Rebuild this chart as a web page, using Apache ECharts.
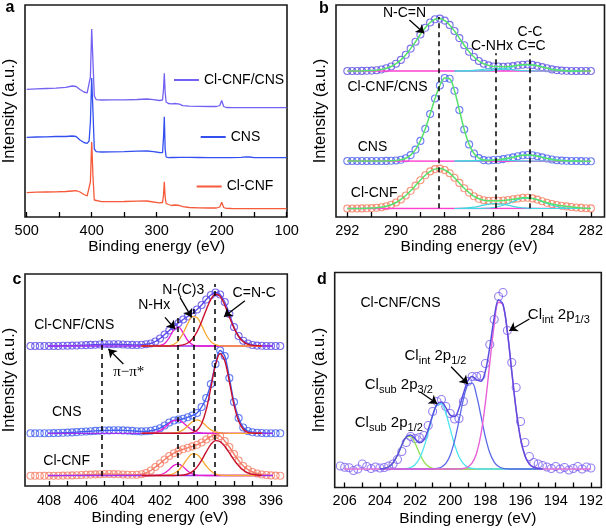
<!DOCTYPE html>
<html>
<head>
<meta charset="utf-8">
<script src="https://cdn.jsdelivr.net/npm/echarts@6/dist/echarts.min.js"></script>
<style>
html,body{margin:0;padding:0;background:#fff;}
#chart{width:606px;height:528px;}
</style>
</head>
<body>
<div id="chart"></div>
<script>
// ---------- Panel a: XPS survey ----------
const xA = [500, 485, 470, 455, 440, 430, 424, 418, 412, 407, 404, 402, 400, 398, 396, 393, 385, 370, 350, 330, 315, 305, 296, 291, 289.5, 288.3, 287, 285.5, 282, 277, 272, 269, 265, 260, 250, 235, 220, 208, 203, 200, 197, 193, 185, 170, 163, 160, 157, 150, 130, 115, 100];
const aClCNFCNS = [127.7, 128.2, 128.5, 128.8, 129.7, 131.0, 130.5, 127.5, 125.0, 124.2, 124.5, 140, 188, 155, 121, 117.3, 117.0, 117.2, 117.2, 117.5, 118.0, 117.3, 116.5, 117.0, 128, 143.7, 125, 115, 113.5, 113.2, 113.5, 114.5, 112.8, 111.3, 110.8, 110.6, 110.5, 110.5, 111.5, 116.5, 110.5, 109.5, 109.3, 109.3, 109.4, 109.5, 109.3, 109.3, 109.3, 109.3, 109.3];
const aCNS = [79.7, 80.0, 80.2, 80.5, 80.5, 81.0, 80.5, 77.0, 74.5, 73.7, 76, 95, 139, 105, 68, 65.3, 65.0, 65.2, 65.3, 65.8, 66.0, 65.3, 64.5, 64.3, 80, 100.3, 68, 60, 59.3, 59.5, 59.5, 59.6, 59.6, 59.6, 59.6, 59.5, 59.4, 59.3, 59.3, 59.3, 59.3, 59.3, 59.4, 59.6, 60.2, 61.0, 60.0, 59.4, 59.3, 59.3, 59.3];
const aClCNF = [24.3, 24.8, 25.0, 25.2, 25.5, 26.0, 26.3, 25.0, 22.5, 21.2, 21.5, 35, 75, 40, 17, 15.5, 15.3, 15.3, 15.5, 15.8, 16.0, 15.0, 14.2, 14.5, 22, 35.3, 20, 13.5, 12.5, 11.5, 12.0, 13.0, 11.5, 10.3, 9.5, 9.2, 9.0, 9.0, 10.0, 14.7, 9.5, 8.7, 8.5, 8.4, 8.3, 8.3, 8.3, 8.3, 8.3, 8.3, 8.3];
const aTicks = [100, 500, 100]; // min, max, step

// ---------- Panel b: C 1s ----------
const xB = [292.0, 291.8, 291.6, 291.4, 291.2, 291.0, 290.8, 290.6, 290.4, 290.2, 290.0, 289.8, 289.6, 289.4, 289.2, 289.0, 288.8, 288.6, 288.4, 288.2, 288.0, 287.8, 287.6, 287.4, 287.2, 287.0, 286.8, 286.6, 286.4, 286.2, 286.0, 285.8, 285.6, 285.4, 285.2, 285.0, 284.8, 284.6, 284.4, 284.2, 284.0, 283.8, 283.6, 283.4, 283.2, 283.0, 282.8, 282.6, 282.4, 282.2, 282.0];
const bTop = [146.0, 146.0, 146.0, 146.1, 146.2, 146.4, 146.8, 147.5, 148.7, 150.5, 153.3, 157.1, 162.2, 168.4, 175.3, 182.5, 189.2, 194.5, 197.7, 198.4, 196.4, 192.1, 186.0, 178.9, 171.8, 165.3, 160.0, 156.0, 153.3, 151.6, 150.5, 150.5, 150.3, 150.5, 150.9, 151.7, 152.3, 152.5, 152.1, 151.2, 149.9, 148.7, 147.6, 146.9, 146.4, 146.2, 146.0, 146.0, 146.0, 146.0, 146.0];
const bMid = [56.0, 56.0, 56.0, 56.0, 56.0, 56.0, 56.0, 56.0, 56.1, 56.2, 56.5, 57.2, 58.7, 61.9, 67.4, 76.1, 88.2, 103.0, 118.5, 131.5, 139.0, 138.3, 126.2, 107.0, 87.5, 72.6, 63.5, 58.9, 56.9, 56.5, 57.0, 57.3, 57.9, 58.8, 59.6, 60.8, 61.7, 62.0, 61.7, 60.8, 59.6, 58.5, 57.5, 56.8, 56.4, 56.2, 56.0, 56.0, 55.9, 55.8, 55.7];
const bBot = [8.5, 8.5, 8.5, 8.6, 8.7, 8.9, 9.2, 9.8, 10.8, 12.3, 14.5, 17.6, 21.5, 26.2, 31.4, 36.8, 41.7, 45.6, 47.9, 48.4, 47.0, 43.8, 39.3, 34.1, 28.7, 24.4, 20.7, 18.2, 16.8, 16.3, 16.2, 16.3, 16.5, 17.0, 17.7, 18.5, 19.2, 19.3, 18.6, 17.4, 15.8, 14.2, 13.0, 12.0, 11.2, 10.6, 10.0, 9.5, 9.1, 8.8, 8.6];
const xBc = [287.6, 287.2, 286.8, 286.4, 286.0, 285.6, 285.2, 284.8, 284.4, 284.0, 283.6, 283.2, 282.8, 282.4];
const bTopNHx = [146, 146.2, 146.7, 147.7, 148.5, 148.2, 147.1, 146.3, 146.1, 146, 146, 146, 146, 146];
const bTopCC = [146, 146, 146, 146.1, 146.6, 148.0, 150.2, 152.2, 152.2, 150.2, 148.0, 146.6, 146.1, 146];
const bMidNHx = [56, 56.1, 56.3, 56.7, 57, 56.9, 56.4, 56.1, 56, 56, 56, 56, 56, 56];
const bMidCC = [56, 56, 56, 56.1, 56.6, 57.8, 59.9, 61.7, 61.7, 59.9, 57.8, 56.6, 56.1, 56];
const bBotNHx = [8.5, 8.8, 9.8, 11.8, 13.4, 12.8, 10.7, 9.2, 8.6, 8.5, 8.5, 8.5, 8.5, 8.5];
const bBotCC = [8.5, 8.5, 8.5, 8.7, 9.5, 11.7, 15.4, 18.5, 18.5, 15.4, 11.7, 9.5, 8.7, 8.5];
const xBEnds = [292, 282];
const bBaseTop = [146, 146];
const bBaseMid = [56, 55.7];
const bBaseBot = [8.5, 8.6];
const bDash = [[288.25, 8.7, 200], [285.9, 8.7, 163.7], [284.5, 8.7, 163.7]];
const bArrow = [[289.45, 197, 288.84, 183.7]];

// ---------- Panel c: N 1s ----------
const xC = [409, 408.75, 408.5, 408.25, 408, 407.75, 407.5, 407.25, 407, 406.75, 406.5, 406.25, 406, 405.75, 405.5, 405.25, 405, 404.75, 404.5, 404.25, 404, 403.75, 403.5, 403.25, 403, 402.75, 402.5, 402.25, 402, 401.75, 401.5, 401.25, 401, 400.75, 400.5, 400.25, 400, 399.75, 399.5, 399.25, 399, 398.75, 398.5, 398.25, 398, 397.75, 397.5, 397.25, 397, 396.75, 396.5, 396.25, 396, 395.75, 395.5];
const cTop = [140, 140, 140, 140, 140, 140, 140, 140.2, 140.3, 140.4, 140.5, 140.7, 140.9, 141.1, 141.3, 141.5, 141.7, 141.8, 141.8, 141.7, 141.5, 141.3, 141.1, 141.0, 141.2, 141.8, 142.5, 144.5, 147.5, 151.5, 155.5, 159.5, 163, 166.5, 169.5, 172.5, 176.5, 181, 186.5, 191, 193.5, 191.5, 184, 172, 159, 150, 145.3, 142.5, 141, 140.4, 140.2, 140, 140, 140, 140];
const cMid = [52.7, 52.7, 52.7, 52.8, 52.8, 52.9, 53.0, 53.2, 53.4, 53.6, 53.9, 54.2, 54.5, 54.8, 55.1, 55.3, 55.5, 55.6, 55.7, 55.7, 55.6, 55.4, 55.1, 54.8, 54.6, 54.7, 55.3, 56.3, 57.8, 60.5, 63.5, 65.5, 66.5, 67.3, 68.8, 70.5, 73, 79, 88, 102, 122, 135.5, 130, 108, 84, 68, 58.5, 55, 53.7, 53.2, 53.0, 52.8, 52.7, 52.7, 52.7];
const cBot = [10.3, 10.3, 10.3, 10.3, 10.3, 10.3, 10.3, 10.4, 10.5, 10.6, 10.8, 11.0, 11.2, 11.4, 11.6, 11.8, 12.0, 12.0, 11.9, 11.7, 11.5, 11.3, 11.2, 11.3, 11.8, 13.0, 15.5, 19.0, 22.5, 26.5, 30.0, 32.8, 35.0, 36.7, 38.2, 39.6, 41.2, 43.5, 46.5, 49.5, 51.0, 50.0, 45.0, 39.0, 32.0, 25.5, 20.0, 16.5, 14.0, 12.5, 11.5, 11.0, 10.6, 10.4, 10.3];
const xCc = [403.0, 402.75, 402.5, 402.25, 402.0, 401.75, 401.5, 401.25, 401.0, 400.75, 400.5, 400.25, 400.0, 399.75, 399.5, 399.25, 399.0, 398.75, 398.5, 398.25, 398.0, 397.75, 397.5, 397.25, 397.0, 396.75, 396.5];
const cTopNHx = [140, 140, 140, 140.1, 140.5, 142.6, 148.3, 156.1, 158.8, 153.2, 145.5, 141.4, 140.2, 140, 140, 140, 140, 140, 140, 140, 140, 140, 140, 140, 140, 140, 140];
const cTopNC3 = [140, 140, 140, 140, 140.1, 140.1, 140.4, 141.7, 145.4, 152.8, 162.4, 169.3, 168.4, 160.6, 151.0, 144.4, 141.3, 140.3, 140, 140, 140, 140, 140, 140, 140, 140, 140];
const cTopCNC = [140, 140, 140, 140, 140, 140, 140, 140.1, 140.4, 141.1, 143.0, 147.0, 154.1, 164.4, 176.3, 186.7, 191.8, 189.6, 180.9, 169.1, 157.9, 149.5, 144.3, 141.7, 140.6, 140.2, 140];
const cMidNHx = [52.7, 52.8, 53.0, 53.7, 55.4, 58.5, 62.5, 65.6, 65.9, 63.3, 59.3, 55.9, 53.9, 53.1, 52.8, 52.7, 52.7, 52.7, 52.7, 52.7, 52.7, 52.7, 52.7, 52.7, 52.7, 52.7, 52.7];
const cMidNC3 = [52.7, 52.7, 52.7, 52.7, 52.7, 52.7, 52.8, 53.0, 53.8, 56.1, 60.0, 64.3, 66.2, 64.3, 60.0, 56.1, 53.8, 53.0, 52.8, 52.7, 52.7, 52.7, 52.7, 52.7, 52.7, 52.7, 52.7];
const cMidCNC = [52.7, 52.7, 52.7, 52.7, 52.7, 52.7, 52.7, 52.7, 52.7, 52.7, 52.8, 53.4, 55.7, 62.3, 76.4, 98.3, 121.1, 132.5, 125.3, 104.1, 81.1, 64.9, 56.8, 53.7, 52.9, 52.7, 52.7];
const cBotNHx = [10.5, 10.5, 10.5, 10.6, 11.2, 13.0, 16.6, 20.6, 21.9, 19.2, 15.0, 12.1, 10.9, 10.6, 10.5, 10.5, 10.5, 10.5, 10.5, 10.5, 10.5, 10.5, 10.5, 10.5, 10.5, 10.5, 10.5];
const cBotNC3 = [10.5, 10.5, 10.5, 10.5, 10.5, 10.6, 11.1, 12.5, 15.7, 21.2, 27.7, 32.1, 31.5, 26.5, 20.0, 14.9, 12.1, 10.9, 10.6, 10.5, 10.5, 10.5, 10.5, 10.5, 10.5, 10.5, 10.5];
const cBotCNC = [10.5, 10.5, 10.5, 10.5, 10.5, 10.5, 10.5, 10.5, 10.6, 11.0, 12.0, 14.4, 18.9, 25.8, 34.1, 41.6, 45.4, 44.3, 39.7, 33.1, 26.2, 20.2, 15.9, 13.2, 11.7, 11.0, 10.7];
const xCEnds = [409, 395.5];
const cBaseTop = [140, 140];
const cBaseMid = [52.7, 52.7];
const cBaseBot = [10.5, 10.5];
const cDash = [[405.15, 10, 147], [401.05, 10, 168], [400.15, 10, 178], [399.05, 10, 202]];
const cArrow = [[401.73, 168.7, 401.19, 157], [400.92, 188.7, 400.29, 168.7], [397.41, 185.3, 398.54, 169.3], [403.98, 122, 404.79, 137]];

// ---------- Panel d: Cl 2p ----------
const xD = [206.25, 206.0, 205.75, 205.5, 205.25, 205.0, 204.75, 204.5, 204.25, 204.0, 203.75, 203.5, 203.25, 203.0, 202.75, 202.5, 202.25, 202.0, 201.75, 201.5, 201.25, 201.0, 200.75, 200.5, 200.25, 200.0, 199.75, 199.5, 199.25, 199.0, 198.75, 198.5, 198.25, 198.0, 197.75, 197.5, 197.25, 197.0, 196.75, 196.5, 196.25, 196.0, 195.75, 195.5, 195.25, 195.0, 194.75, 194.5, 194.25, 194.0, 193.75, 193.5, 193.25, 193.0, 192.75, 192.5, 192.25, 192.0];
const dData = [21.5, 20.2, 19.8, 17.0, 18.5, 23.5, 21.0, 19.0, 20.5, 19.5, 20.0, 21.5, 23.5, 28.0, 36.0, 45.0, 51.0, 49.0, 50.0, 52.0, 62.0, 76.0, 86.0, 88.0, 81.0, 74.0, 68.5, 69.0, 86.0, 106.0, 111.0, 111.0, 112.0, 124.0, 143.0, 168.0, 191.0, 195.0, 157.0, 125.0, 100.0, 66.0, 45.0, 31.0, 25.0, 23.5, 22.0, 20.5, 19.0, 21.0, 18.5, 20.0, 17.5, 19.0, 21.0, 18.5, 20.5, 19.5];
const xDe = [204.0, 203.75, 203.5, 203.25, 203.0, 202.75, 202.5, 202.25, 202.0, 201.75, 201.5, 201.25, 201.0, 200.75, 200.5, 200.25, 200.0, 199.75, 199.5, 199.25, 199.0, 198.75, 198.5, 198.25, 198.0, 197.75, 197.5, 197.25, 197.0, 196.75, 196.5, 196.25, 196.0, 195.75, 195.5, 195.25, 195.0, 194.75];
const dFit = [18.6, 19.1, 20.6, 24.7, 32.3, 42.5, 50.7, 52.6, 48.6, 44.7, 47.4, 57.9, 72.2, 83.3, 85.6, 79.9, 72.4, 71.0, 79.3, 94.0, 106.7, 111.0, 107.8, 106.3, 116.5, 140.5, 169.6, 187.8, 183.3, 155.9, 116.0, 77.5, 48.8, 31.7, 23.4, 20.1, 18.9, 18.6];
const dSub12 = [18.6, 19.1, 20.6, 24.7, 32.3, 42.4, 50.3, 51.1, 44.3, 34.2, 25.9, 21.2, 19.2, 18.7, 18.5, 18.5, 18.5, 18.5, 18.5, 18.5, 18.5, 18.5, 18.5, 18.5, 18.5, 18.5, 18.5, 18.5, 18.5, 18.5, 18.5, 18.5, 18.5, 18.5, 18.5, 18.5, 18.5, 18.5];
const dSub32 = [18.5, 18.5, 18.5, 18.5, 18.5, 18.6, 18.9, 20.0, 22.8, 29.0, 40.0, 55.2, 71.4, 82.5, 83.6, 74.2, 58.6, 42.7, 30.8, 23.8, 20.4, 19.1, 18.6, 18.5, 18.5, 18.5, 18.5, 18.5, 18.5, 18.5, 18.5, 18.5, 18.5, 18.5, 18.5, 18.5, 18.5, 18.5];
const dInt12 = [18.5, 18.5, 18.5, 18.5, 18.5, 18.5, 18.5, 18.5, 18.5, 18.5, 18.5, 18.5, 18.6, 19.1, 20.5, 24.2, 32.3, 46.8, 66.9, 88.2, 102.8, 104.3, 91.9, 71.3, 50.4, 34.7, 25.4, 21.0, 19.2, 18.7, 18.5, 18.5, 18.5, 18.5, 18.5, 18.5, 18.5, 18.5];
const dInt13 = [18.5, 18.5, 18.5, 18.5, 18.5, 18.5, 18.5, 18.5, 18.5, 18.5, 18.5, 18.5, 18.5, 18.5, 18.5, 18.5, 18.5, 18.5, 18.6, 19.0, 20.5, 24.6, 34.3, 53.5, 84.6, 124.3, 162.7, 185.3, 182.6, 155.7, 116.0, 77.5, 48.8, 31.7, 23.4, 20.1, 18.9, 18.6];
const xDEnds = [206.25, 192.0];
const dBase = [18.5, 18.5];
const dArrow = [[195.5, 168.5, 196.64, 156.8], [199.95, 120.8, 199.0, 103.5], [201.7, 95.5, 200.74, 83.8]];

// ---------- build ----------
const FONT = "'Liberation Sans', Arial, sans-serif";
const P = (xs, ys) => xs.map((x, i) => [x, ys[i]]);

function ln(ai, xs, ys, color, width, extra) {
  return Object.assign({
    type: 'line', xAxisIndex: ai, yAxisIndex: ai, data: P(xs, ys),
    symbol: 'none', showSymbol: false, smooth: 0.35, clip: false, silent: true,
    color: color, lineStyle: { color: color, width: width }, emphasis: { disabled: true }
  }, extra || {});
}
function circ(ai, xs, ys, color, size) {
  return {
    type: 'scatter', xAxisIndex: ai, yAxisIndex: ai, data: P(xs, ys),
    symbol: 'circle', symbolSize: size || 7, silent: true, clip: false,
    itemStyle: { color: 'rgba(255,255,255,0)', borderColor: color, borderWidth: 1.1 },
    emphasis: { disabled: true }
  };
}
function dashML(list) {
  return {
    silent: true, symbol: ['none', 'none'], label: { show: false },
    lineStyle: { color: '#000', width: 1.5, type: [5, 4] }, emphasis: { disabled: true },
    data: list.map(d => [{ coord: [d[0], d[1]] }, { coord: [d[0], d[2]] }])
  };
}
function arrowML(list) {
  return {
    silent: true, symbol: ['none', 'arrow'], symbolSize: 8, label: { show: false },
    lineStyle: { color: '#000', width: 1.3, type: 'solid' }, emphasis: { disabled: true },
    data: list.map(d => [{ coord: [d[0], d[1]] }, { coord: [d[2], d[3]] }])
  };
}

const grids = [
  { left: 25, top: 5, width: 262, height: 212 },       // 0 a box
  { left: 26.7, top: 5, width: 260, height: 212 },     // 1 a data
  { left: 336, top: 5, width: 268.5, height: 212 },    // 2 b box
  { left: 347.3, top: 5, width: 245, height: 212 },    // 3 b data
  { left: 23.3, top: 274, width: 264, height: 212 },   // 4 c box
  { left: 49, top: 274, width: 222, height: 212 },     // 5 c data
  { left: 334.7, top: 272.5, width: 266.6, height: 215 }, // 6 d box
  { left: 344.7, top: 272.5, width: 246.6, height: 215 }  // 7 d data
].map((g, i) => Object.assign(g, i % 2 === 0
  ? { show: true, borderColor: '#1a1a1a', borderWidth: 1.6, backgroundColor: 'transparent' }
  : { show: false }));

const xAxes = [], yAxes = [];
function boxAxes(gi) {
  xAxes.push({ gridIndex: gi, type: 'value', show: false, min: 0, max: 1 });
  yAxes.push({
    gridIndex: gi, type: 'value', min: 0, max: 1, name: 'Intensity (a.u.)', nameLocation: 'middle', nameGap: 7,
    nameTextStyle: { fontSize: 16.5, fontFamily: FONT, color: '#000' },
    axisLine: { show: false }, axisTick: { show: false }, axisLabel: { show: false }, splitLine: { show: false }
  });
}
function dataAxes(gi, min, max, step, ymax, margin, nameGap) {
  const tl = { color: '#000', width: 1.3 };
  xAxes.push({
    gridIndex: gi, type: 'value', min: min, max: max, interval: step, inverse: true,
    axisLine: { show: false },
    axisTick: { show: true, inside: true, length: 5, lineStyle: tl },
    minorTick: { show: true, splitNumber: 2, length: 5, lineStyle: tl },
    axisLabel: { fontSize: 14.5, fontFamily: FONT, color: '#000', margin: margin },
    splitLine: { show: false }, minorSplitLine: { show: false },
    name: 'Binding energy (eV)', nameLocation: 'middle', nameGap: nameGap,
    nameTextStyle: { fontSize: 15.5, fontFamily: FONT, color: '#000' }
  });
  yAxes.push({ gridIndex: gi, type: 'value', min: 0, max: ymax, show: false });
}
boxAxes(0); dataAxes(1, aTicks[0], aTicks[1], aTicks[2], 212, 6, 22);
boxAxes(2); dataAxes(3, 282, 292, 2, 212, 6, 22);
boxAxes(4); dataAxes(5, 396, 408, 2, 212, 7.5, 24);
boxAxes(6); dataAxes(7, 192, 206, 2, 215, 6, 23);

const series = [];
// panel a
series.push(ln(1, xA, aClCNF, '#f55a3a', 1.3, { name: 'Cl-CNF', smooth: false }));
series.push(ln(1, xA, aCNS, '#3550f0', 1.3, { name: 'CNS', smooth: false }));
series.push(ln(1, xA, aClCNFCNS, '#7362f2', 1.3, { name: 'Cl-CNF/CNS', smooth: false }));

// panel b
const bC = { top: '#5d4fe6', mid: '#4a5ef0', bot: '#f27a5c', fit: '#55e26a', base: '#ff40d0', comp: '#40d8e0' };
series.push(circ(3, xB, bTop, bC.top));
series.push(circ(3, xB, bMid, bC.mid));
series.push(circ(3, xB, bBot, bC.bot));
[[bBaseTop, bTopNHx, bTopCC], [bBaseMid, bMidNHx, bMidCC], [bBaseBot, bBotNHx, bBotCC]].forEach(([base, n, c]) => {
  series.push(ln(3, xBEnds, base, bC.base, 1.3, { smooth: false }));
  series.push(ln(3, xBc, n, bC.comp, 1.2));
  series.push(ln(3, xBc, c, bC.comp, 1.2));
});
series.push(ln(3, xB, bTop, bC.fit, 1.5));
series.push(ln(3, xB, bMid, bC.fit, 1.5));
series.push(ln(3, xB, bBot, bC.fit, 1.5));
series.push(ln(3, xBEnds, bBaseBot, 'rgba(0,0,0,0)', 0, { smooth: false, markLine: dashML(bDash) }));
series.push(ln(3, xBEnds, bBaseTop, 'rgba(0,0,0,0)', 0, { smooth: false, markLine: arrowML(bArrow) }));

// panel c
const cC = { top: '#5a4ae8', mid: '#3f5ef0', bot: '#f57d65', base: '#a030f0', nhx: '#e81ed0', nc3: '#f7a830', cnc: '#c8102e' };
series.push(circ(5, xC, cTop, cC.top));
series.push(circ(5, xC, cMid, cC.mid));
series.push(circ(5, xC, cBot, cC.bot));
series.push(ln(5, xC, cTop, cC.top, 1.4));
series.push(ln(5, xC, cMid, cC.mid, 1.4));
series.push(ln(5, xC, cBot, cC.bot, 1.4));
[[cBaseTop, cTopNHx, cTopNC3, cTopCNC], [cBaseMid, cMidNHx, cMidNC3, cMidCNC], [cBaseBot, cBotNHx, cBotNC3, cBotCNC]].forEach(([base, n, m, r]) => {
  series.push(ln(5, xCEnds, base, cC.base, 1.3, { smooth: false }));
  series.push(ln(5, xCc, n, cC.nhx, 1.3));
  series.push(ln(5, xCc, m, cC.nc3, 1.3));
  series.push(ln(5, xCc, r, cC.cnc, 1.4));
});
series.push(ln(5, xCEnds, cBaseBot, 'rgba(0,0,0,0)', 0, { smooth: false, markLine: dashML(cDash) }));
series.push(ln(5, xCEnds, cBaseTop, 'rgba(0,0,0,0)', 0, { smooth: false, markLine: arrowML(cArrow) }));

// panel d
series.push(circ(7, xD, dData, '#7a5ff0', 8));
series.push(ln(7, xDEnds, dBase, '#e070d8', 1.3, { smooth: false }));
series.push(ln(7, xDe, dSub12, '#90e050', 1.3));
series.push(ln(7, xDe, dSub32, '#50e4f0', 1.3));
series.push(ln(7, xDe, dInt12, '#5a6ae8', 1.3));
series.push(ln(7, xDe, dInt13, '#e860d8', 1.4));
series.push(ln(7, xDe, dFit, '#5a4ee0', 1.5, { markLine: arrowML(dArrow) }));

function leg(name, left, top) {
  return {
    data: [name], left: left, top: top, padding: 0, itemGap: 0, icon: 'rect',
    itemWidth: 25, itemHeight: 2, selectedMode: false,
    textStyle: { fontSize: 14, fontFamily: FONT, color: '#000' }
  };
}

function txt(x, y, text, size, extra) {
  return {
    type: 'text', x: x, y: y, silent: true,
    style: Object.assign({
      text: text, fill: '#000', font: size + 'px ' + FONT,
      align: 'center', verticalAlign: 'middle', textAlign: 'center', textVerticalAlign: 'middle'
    }, extra || {})
  };
}
function richTxt(x, y, a, b, c, d) {
  return {
    type: 'text', x: x, y: y, silent: true,
    style: {
      text: '{n|' + a + '}{s|' + b + '}{n|' + c + '}{s|' + d + '}',
      align: 'center', verticalAlign: 'middle', textAlign: 'center', textVerticalAlign: 'middle',
      rich: {
        n: { fontSize: 15, fontFamily: FONT, fill: '#000', color: '#000' },
        s: { fontSize: 11, fontFamily: FONT, fill: '#000', color: '#000', padding: [9, 0, 0, 0] }
      }
    }
  };
}

const graphics = [
  txt(10, 8, 'a', 16, { font: 'bold 16px ' + FONT }),
  txt(324, 9, 'b', 16, { font: 'bold 16px ' + FONT }),
  txt(17, 280, 'c', 16, { font: 'bold 16px ' + FONT }),
  txt(322, 280, 'd', 16, { font: 'bold 16px ' + FONT }),
  // b
  txt(404.5, 13.3, 'N-C=N', 14),
  txt(492, 46, 'C-NHx', 14),
  txt(530, 31.7, 'C-C', 14),
  txt(531.5, 46, 'C=C', 14),
  txt(387.5, 87.3, 'Cl-CNF/CNS', 14),
  txt(372.5, 146.7, 'CNS', 14),
  txt(374.2, 193.3, 'Cl-CNF', 14),
  // c
  txt(154.2, 305, 'N-Hx', 14),
  txt(183.3, 290, 'N-(C)3', 14),
  txt(254.2, 293.3, 'C=N-C', 14),
  txt(74.2, 324.7, 'Cl-CNF/CNS', 14),
  txt(66.7, 412.3, 'CNS', 14),
  txt(66.7, 460.7, 'Cl-CNF', 14),
  txt(128.7, 372.3, 'π−π*', 15, { font: "15px 'Liberation Serif', serif" }),
  // d
  txt(400.5, 303.3, 'Cl-CNF/CNS', 14),
  richTxt(558.8, 315, 'Cl', 'int', ' 2p', '1/3'),
  richTxt(435.5, 356, 'Cl', 'int', ' 2p', '1/2'),
  richTxt(398.8, 385, 'Cl', 'sub', ' 2p', '3/2'),
  richTxt(388.8, 423, 'Cl', 'sub', ' 2p', '1/2')
];

const option = {
  animation: false,
  backgroundColor: '#fff',
  grid: grids,
  xAxis: xAxes,
  yAxis: yAxes,
  legend: [leg('Cl-CNF/CNS', 174, 73), leg('CNS', 200.7, 130), leg('Cl-CNF', 196.7, 179.5)],
  series: series,
  graphic: { elements: graphics }
};

const chart = echarts.init(document.getElementById('chart'), null, { renderer: 'canvas' });
chart.setOption(option);
</script>
</body>
</html>
